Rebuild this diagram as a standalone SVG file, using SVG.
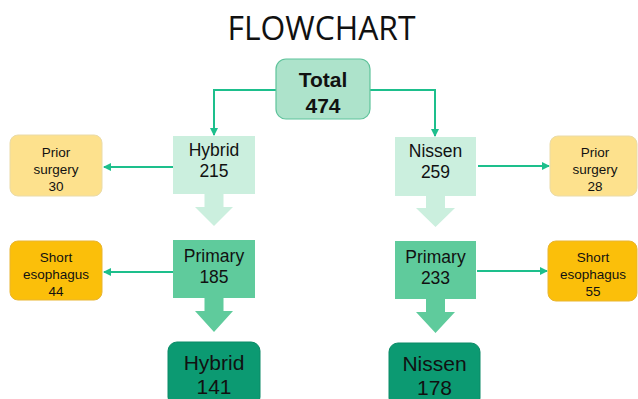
<svg xmlns="http://www.w3.org/2000/svg" width="638" height="399" viewBox="0 0 638 399">
<style>
text{font-family:"Liberation Sans",Arial,sans-serif;fill:#111;text-anchor:middle}
.conn{fill:none;stroke:#1dbf8c;stroke-width:2}
.mint{fill:#cbefde}
.prim{fill:#5fcb9c}
.dark{fill:#0c9a72;stroke:#0a8a66;stroke-width:1}
.ps{fill:#fde18d;stroke:#eadba8;stroke-width:1}
.se{fill:#fbbf0a;stroke:#e9b530;stroke-width:1}
.mid{font-size:17.5px}
.small{font-size:13.5px}
.big{font-size:21px}
</style>
<defs>
<marker id="ah" viewBox="0 0 8 8" refX="7" refY="4" markerWidth="4" markerHeight="4" orient="auto" markerUnits="strokeWidth">
<path d="M0,0 L8,4 L0,8 Z" fill="#1dbf8c"/>
</marker>
</defs>
<rect width="638" height="399" fill="#ffffff"/>
<text x="321.5" y="40" style="font-family:'Open Sans','Liberation Sans',sans-serif;font-size:33px" textLength="188" lengthAdjust="spacingAndGlyphs">FLOWCHART</text>

<g id="connectors">
<path class="conn" d="M276,90 H214 V135" marker-end="url(#ah)"/>
<path class="conn" d="M370,90 H435 V136" marker-end="url(#ah)"/>
<path class="conn" d="M173,167 H104" marker-end="url(#ah)"/>
<path class="conn" d="M173,272 H104" marker-end="url(#ah)"/>
<path class="conn" d="M478,166 H549" marker-end="url(#ah)"/>
<path class="conn" d="M477,271 H547" marker-end="url(#ah)"/>
</g>

<g id="total">
<rect x="276" y="59" width="94" height="60" rx="10" fill="#ade3cb" stroke="#5fc39b" stroke-width="1.2"/>
<text x="323" y="87" style="font-size:21px;font-weight:bold">Total</text>
<text x="323" y="113" style="font-size:21px;font-weight:bold">474</text>
</g>

<g id="hybrid215">
<path class="mint" d="M173,136 H255 V194 H223.5 V207 H233 L214,226 L195,207 H204.5 V194 H173 Z"/>
<text class="mid" x="214" y="156">Hybrid</text>
<text class="mid" x="214" y="177">215</text>
</g>

<g id="primary185">
<path class="prim" d="M173,240 H255 V298 H223.5 V311 H233 L214,332 L195,311 H204.5 V298 H173 Z"/>
<text class="mid" x="214" y="262">Primary</text>
<text class="mid" x="214" y="283">185</text>
</g>

<g id="hybrid141">
<rect class="dark" x="168" y="342" width="92" height="64" rx="9"/>
<text class="big" x="214" y="370">Hybrid</text>
<text class="big" x="214" y="394">141</text>
</g>

<g id="nissen259">
<path class="mint" d="M395,137 H476 V196 H445 V208 H455 L435.5,227 L416,208 H426 V196 H395 Z"/>
<text class="mid" x="435.5" y="157">Nissen</text>
<text class="mid" x="435.5" y="178">259</text>
</g>

<g id="primary233">
<path class="prim" d="M395,241 H476 V299 H445 V312 H455 L435.5,333 L416,312 H426 V299 H395 Z"/>
<text class="mid" x="435.5" y="263">Primary</text>
<text class="mid" x="435.5" y="284">233</text>
</g>

<g id="nissen178">
<rect class="dark" x="389" y="343" width="91" height="64" rx="9"/>
<text class="big" x="434.5" y="371">Nissen</text>
<text class="big" x="434.5" y="395">178</text>
</g>

<g id="priorLeft">
<rect class="ps" x="10" y="135" width="92" height="61" rx="8"/>
<text class="small" x="56" y="157">Prior</text>
<text class="small" x="56" y="174">surgery</text>
<text class="small" x="56" y="191">30</text>
</g>

<g id="shortLeft">
<rect class="se" x="10" y="241" width="92" height="59" rx="8"/>
<text class="small" x="56" y="262">Short</text>
<text class="small" x="56" y="279">esophagus</text>
<text class="small" x="56" y="296">44</text>
</g>

<g id="priorRight">
<rect class="ps" x="550" y="136" width="87" height="60" rx="8"/>
<text class="small" x="595" y="157">Prior</text>
<text class="small" x="595" y="174">surgery</text>
<text class="small" x="595" y="191">28</text>
</g>

<g id="shortRight">
<rect class="se" x="548" y="241" width="89" height="60" rx="8"/>
<text class="small" x="593" y="262">Short</text>
<text class="small" x="593" y="279">esophagus</text>
<text class="small" x="593" y="296">55</text>
</g>
</svg>
